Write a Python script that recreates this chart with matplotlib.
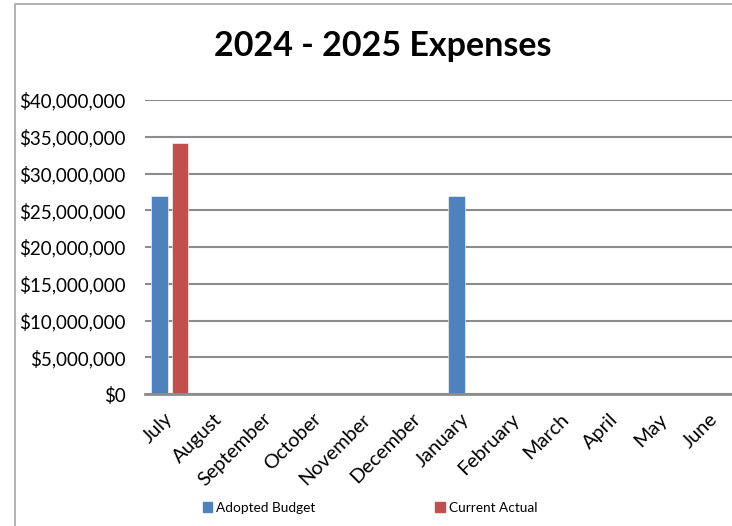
import numpy as np
import matplotlib.pyplot as plt
from matplotlib.ticker import FuncFormatter
from matplotlib.patches import Rectangle

# datos del gráfico
months = ["July", "August", "September", "October", "November", "December",
          "January", "February", "March", "April", "May", "June"]
adopted_budget = [26900000, 0, 0, 0, 0, 0, 26900000, 0, 0, 0, 0, 0]
current_actual = [34200000, 0, 0, 0, 0, 0, 0, 0, 0, 0, 0, 0]

blue = "#4F81BD"
red = "#C0504D"

plt.rcParams['font.family'] = ['Lato', 'DejaVu Sans']

fig = plt.figure(figsize=(7.32, 5.26), dpi=100)
W, H = 732, 526

# marco del gráfico (solo se ven el borde izquierdo y el superior)
fig.patches.append(Rectangle((15 / W, -0.1), 1.2, (H - 4) / H + 0.1, transform=fig.transFigure,
                             fill=False, edgecolor="#a6a6a6", linewidth=1.2))

ax = fig.add_axes([145 / W, (H - 394) / H, 594 / W, 294 / H])
x = np.arange(len(months))
w = 0.33
ax.bar(x - 0.205, adopted_budget, w, color=blue, edgecolor="white", linewidth=0.4, zorder=3)
ax.bar(x + 0.205, current_actual, w, color=red, edgecolor="white", linewidth=0.4, zorder=3)

ax.set_xlim(-0.5, 11.5)
ax.set_ylim(0, 40000000)
ax.set_yticks(np.arange(0, 40000001, 5000000))
ax.yaxis.set_major_formatter(FuncFormatter(lambda v, p: "${:,.0f}".format(v)))
ax.grid(axis="y", color="#8c8c8c", linewidth=1.5, zorder=0)
for s in ["left", "right", "top"]:
    ax.spines[s].set_visible(False)
ax.spines["bottom"].set_color("#8c8c8c")
ax.spines["bottom"].set_linewidth(2)
ax.spines["bottom"].set_zorder(4)
ax.tick_params(length=0)
ax.tick_params(axis="y", labelsize=13.5, pad=14)
ax.set_xticks(x)
ax.set_xticklabels(months, rotation=45, ha="right", va="center", rotation_mode="anchor", fontsize=14.3)
ax.tick_params(axis="x", pad=16)

fig.text(383 / W, 1 - 46 / H, "2024 - 2025 Expenses", ha="center", va="center",
         fontsize=24.5, fontweight="bold")

handles = [Rectangle((0, 0), 1, 1, color=blue), Rectangle((0, 0), 1, 1, color=red)]
fig.legend(handles, ["Adopted Budget", "Current Actual"], loc="center",
           bbox_to_anchor=(370 / W, 1 - 508 / H), ncol=2, frameon=False, fontsize=9.8,
           handlelength=0.7, handleheight=0.7, handletextpad=0.3, columnspacing=8.8)

fig.savefig("out.png", dpi=100)
